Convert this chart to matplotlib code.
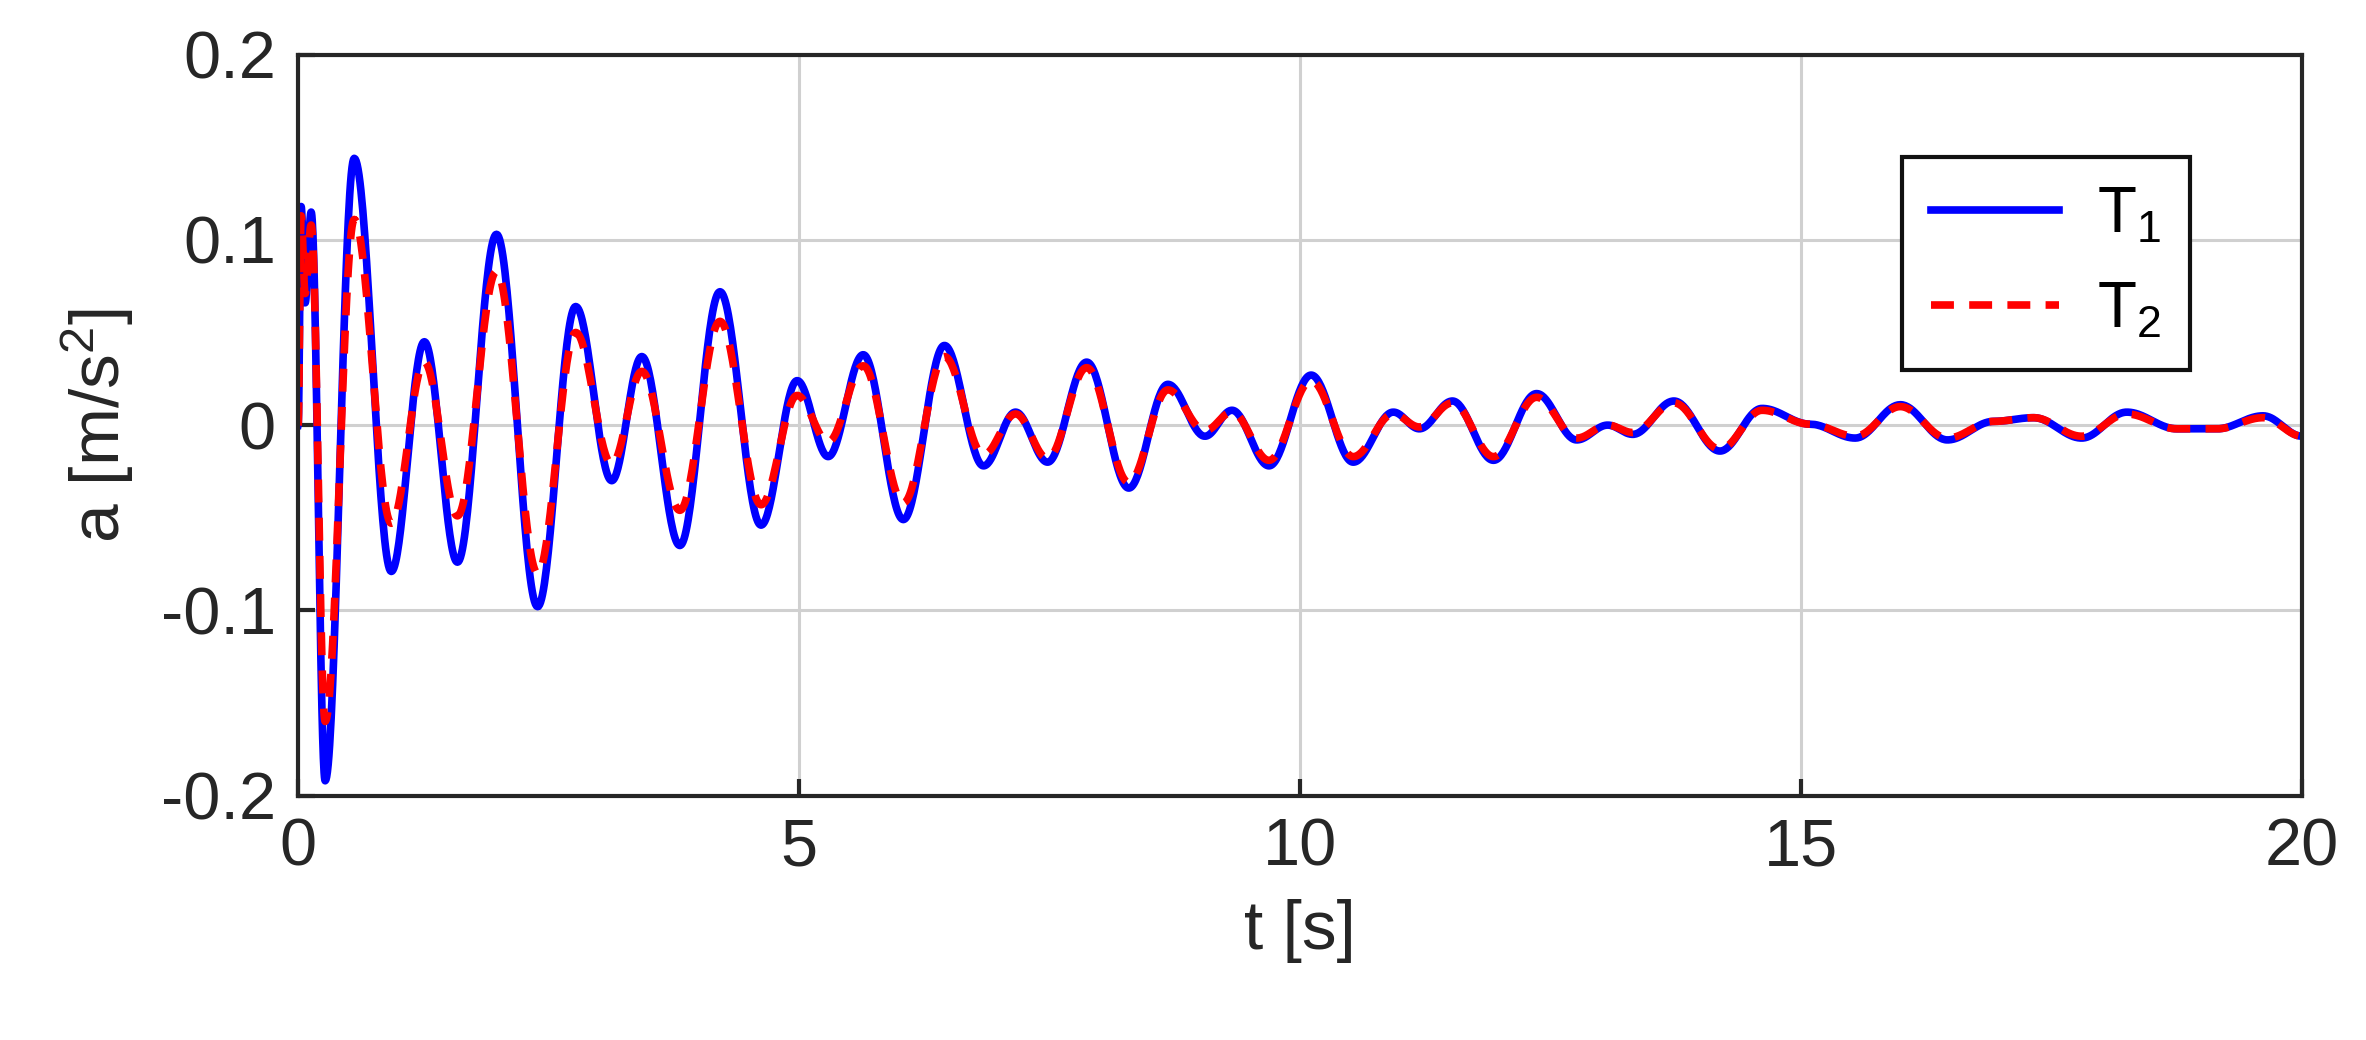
import numpy as np
import matplotlib
matplotlib.use('Agg')
import matplotlib.pyplot as plt

# extrema (time [s], acceleration [m/s^2])
t1 = [0.0, 0.03, 0.07, 0.13, 0.27, 0.56, 0.93, 1.26, 1.59, 1.98, 2.39, 2.77, 3.13, 3.43, 3.81,
      4.21, 4.62, 4.98, 5.29, 5.64, 6.04, 6.45, 6.84, 7.16, 7.48, 7.87, 8.29, 8.68, 9.05, 9.32,
      9.69, 10.11, 10.53, 10.93, 11.19, 11.52, 11.93, 12.36, 12.76, 13.07, 13.32, 13.73, 14.19,
      14.61, 15.09, 15.54, 15.99, 16.46, 16.92, 17.32, 17.80, 18.25, 18.75, 19.15, 19.61, 20.0]
a1 = [0.0, 0.118, 0.066, 0.115, -0.192, 0.144, -0.079, 0.045, -0.074, 0.103, -0.098, 0.064, -0.030,
      0.037, -0.065, 0.072, -0.054, 0.024, -0.017, 0.038, -0.051, 0.043, -0.022, 0.007, -0.020,
      0.034, -0.034, 0.022, -0.006, 0.008, -0.022, 0.027, -0.020, 0.007, -0.002, 0.013, -0.019,
      0.017, -0.008, 0.000, -0.005, 0.013, -0.014, 0.009, 0.0005, -0.007, 0.011, -0.008, 0.002,
      0.004, -0.007, 0.007, -0.002, -0.002, 0.005, -0.006]
t2 = t1
a2 = [0.0, 0.113, 0.071, 0.108, -0.160, 0.111, -0.053, 0.034, -0.049, 0.083, -0.080, 0.050, -0.021,
      0.029, -0.046, 0.056, -0.043, 0.016, -0.009, 0.032, -0.042, 0.037, -0.016, 0.006, -0.018,
      0.031, -0.031, 0.019, -0.003, 0.007, -0.019, 0.024, -0.017, 0.006, -0.001, 0.012, -0.017,
      0.015, -0.007, 0.000, -0.004, 0.012, -0.013, 0.008, 0.0005, -0.006, 0.010, -0.007, 0.002,
      0.004, -0.006, 0.006, -0.002, -0.002, 0.004, -0.006]


def smooth(ts, vs, n=40):
    # half-cosine segments between successive extrema
    xs, ys = [], []
    s = np.linspace(0, 1, n)
    for i in range(len(ts) - 1):
        xs.append(ts[i] + (ts[i + 1] - ts[i]) * s)
        ys.append(vs[i] + (vs[i + 1] - vs[i]) * (1 - np.cos(np.pi * s)) / 2)
    return np.concatenate(xs), np.concatenate(ys)


plt.rcParams['font.family'] = ['Liberation Sans', 'DejaVu Sans']
plt.rcParams['mathtext.fontset'] = 'custom'
plt.rcParams['mathtext.rm'] = 'Liberation Sans'
plt.rcParams['mathtext.it'] = 'Liberation Sans'
txt = '#262626'

fig = plt.figure(figsize=(23.66, 10.4), dpi=100)
ax = fig.add_axes([0.126, 0.235, 0.847, 0.7125])

x, y = smooth(t1, a1)
ax.plot(x, y, color='#0000ff', lw=5.5, label='T$_1$')
x, y = smooth(t2, a2)
ax.plot(x, y, color='#ff0000', lw=5.5, ls=(0, (3, 2)), label='T$_2$')

ax.set_xlim(0, 20)
ax.set_ylim(-0.2, 0.2)
ax.set_xticks([0, 5, 10, 15, 20])
ax.set_yticks([-0.2, -0.1, 0, 0.1, 0.2])
ax.set_yticklabels(['-0.2', '-0.1', '0', '0.1', '0.2'])
ax.grid(True, color='#d0d0d0', lw=2.2)
ax.set_axisbelow(True)
ax.tick_params(direction='in', length=12, width=3, labelsize=48, colors=txt, pad=16)
for sp in ax.spines.values():
    sp.set_linewidth(3)
    sp.set_color(txt)
ax.set_xlabel('t [s]', fontsize=50, color=txt, labelpad=14)
ax.set_ylabel('a [m/s$^2$]', fontsize=50, color=txt, labelpad=18)

leg = ax.legend(loc='upper right', bbox_to_anchor=(0.96, 0.905), fontsize=46, frameon=True,
                fancybox=False, edgecolor='#111111', handlelength=2.0, handletextpad=0.6,
                borderpad=0.45, labelspacing=0.55, framealpha=1)
leg.get_frame().set_linewidth(3)

fig.savefig('out.png', dpi=100)
